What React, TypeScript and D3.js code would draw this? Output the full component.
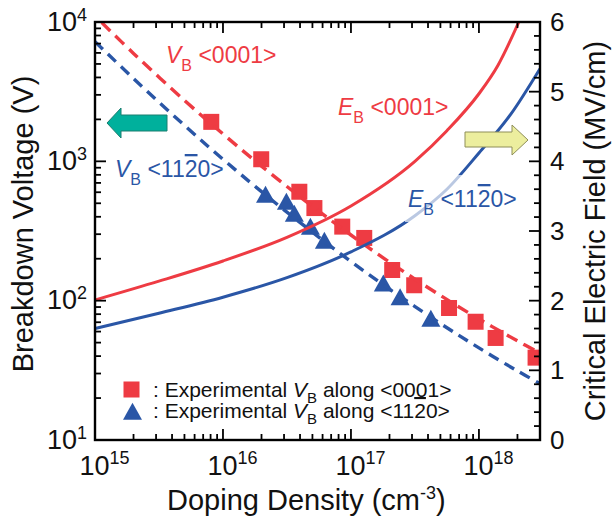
import React from 'react';
import * as d3 from 'd3';

const RED = '#EE3B43';
const BLUE = '#2A56A6';
const FONT = '"Liberation Sans", Arial, Helvetica, sans-serif';

// Experimental breakdown voltage along <0001> (doping cm^-3, volts)
const sqDoping = [8.1e15, 1.99e16, 3.95e16, 5.18e16, 8.55e16, 1.27e17, 2.1e17, 3.12e17, 5.84e17, 9.42e17, 1.35e18, 2.77e18];
const sqVoltage = [1920, 1035, 605, 462, 340, 282, 166, 129, 88.6, 70.6, 54, 39];

// Experimental breakdown voltage along <11-20>
const triDoping = [2.15e16, 3.13e16, 3.61e16, 4.82e16, 6.2e16, 1.79e17, 2.42e17, 4.21e17];
const triVoltage = [555, 494, 405, 327, 259, 128, 102, 71.5];

// Calculated breakdown voltage, <0001>
const vb0001Doping = [1.13e15, 2e15, 5e15, 1e16, 2e16, 5e16, 1e17, 2e17, 5e17, 1e18, 2e18, 3e18];
const vb0001Voltage = [9900, 5950, 2740, 1572, 924, 475, 296, 189, 109, 73.9, 51.4, 42];

// Calculated breakdown voltage, <11-20>
const vb1120Doping = [1e15, 2e15, 5e15, 1e16, 2e16, 5e16, 1e17, 2e17, 5e17, 1e18, 2e18, 3e18];
const vb1120Voltage = [7230, 3930, 1810, 1035, 606, 310, 191, 121, 68.6, 45.8, 31.3, 25.4];

// Critical electric field (MV/cm), <0001>
const eb0001Doping = [1e15, 3.16e15, 1e16, 3.16e16, 1e17, 3.16e17, 5.62e17, 1e18, 1.41e18, 2.05e18];
const eb0001Field = [2.01, 2.28, 2.57, 2.91, 3.36, 4.0, 4.44, 4.97, 5.38, 6.0];

// Critical electric field (MV/cm), <11-20>
const eb1120Doping = [1e15, 3.16e15, 1e16, 3.16e16, 1e17, 3.16e17, 5.62e17, 1e18, 1.78e18, 3e18];
const eb1120Field = [1.6, 1.82, 2.05, 2.33, 2.7, 3.22, 3.6, 4.12, 4.68, 5.33];

// Axis ticks
const xMajorTicks = [1e15, 1e16, 1e17, 1e18];
const xExponents = ['15', '16', '17', '18'];
const vMajorTicks = [10, 100, 1000, 10000];
const vExponents = ['1', '2', '3', '4'];
const eTicks = [0, 1, 2, 3, 4, 5, 6];

const zip = (a: number[], b: number[]): [number, number][] => a.map((v, i) => [v, b[i]]);

export default function App() {
  const W = 612;
  const H = 525;
  const L = 95, R = 540, T = 22, B = 440;

  const x = d3.scaleLog().domain([1e15, 3e18]).range([L, R]);
  const yV = d3.scaleLog().domain([10, 1e4]).range([B, T]);
  const yE = d3.scaleLinear().domain([0, 6]).range([B, T]);

  const lineV = d3
    .line<[number, number]>()
    .x((d) => x(d[0]))
    .y((d) => yV(d[1]))
    .curve(d3.curveCatmullRom.alpha(0.5));
  const lineE = d3
    .line<[number, number]>()
    .x((d) => x(d[0]))
    .y((d) => yE(d[1]))
    .curve(d3.curveMonotoneX);

  const xMinor = d3
    .range(15, 19)
    .flatMap((p) => d3.range(2, 10).map((k) => k * 10 ** p))
    .filter((v) => v <= 3e18);
  const vMinor = d3.range(1, 4).flatMap((p) => d3.range(2, 10).map((k) => k * 10 ** p));
  const eMinor = d3.range(0, 30).map((i) => i * 0.2).filter((v, i) => i % 5 !== 0);

  const sq = 16;
  const triW = 19;
  const triH = 17;
  const triPath = (cx: number, cy: number) =>
    `M${cx},${cy - (2 * triH) / 3}L${cx - triW / 2},${cy + triH / 3}L${cx + triW / 2},${cy + triH / 3}Z`;

  const major = 11;
  const minor = 6;
  const axisStroke = 2.4;

  return (
    <svg
      width={W}
      height={H}
      viewBox={`0 0 ${W} ${H}`}
      style={{ position: 'absolute', left: 0, top: 0, background: '#fff' }}
      fontFamily={FONT}
    >
      <defs>
        <clipPath id="plotArea">
          <rect x={L} y={T} width={R - L} height={B - T} />
        </clipPath>
      </defs>
      <rect x={0} y={0} width={W} height={H} fill="#fff" />

      {/* markers */}
      <g clipPath="url(#plotArea)">
        {sqDoping.map((n, i) => (
          <rect key={`s${i}`} x={x(n) - sq / 2} y={yV(sqVoltage[i]) - sq / 2} width={sq} height={sq} fill={RED} />
        ))}
        {triDoping.map((n, i) => (
          <path key={`t${i}`} d={triPath(x(n), yV(triVoltage[i]))} fill={BLUE} />
        ))}
      </g>

      {/* calculated curves */}
      <g clipPath="url(#plotArea)" fill="none">
        <path d={lineV(zip(vb0001Doping, vb0001Voltage)) || ''} stroke={RED} strokeWidth={3.4} strokeDasharray="12 7" />
        <path d={lineV(zip(vb1120Doping, vb1120Voltage)) || ''} stroke={BLUE} strokeWidth={3.4} strokeDasharray="11 7" />
        <path d={lineE(zip(eb0001Doping, eb0001Field)) || ''} stroke={RED} strokeWidth={3} />
        <path d={lineE(zip(eb1120Doping, eb1120Field)) || ''} stroke={BLUE} strokeWidth={3} />
      </g>

      {/* translucent backing for the E_B <11-20> label */}
      <rect x={405} y={175} width={122} height={47} fill="#fff" opacity={0.68} />

      {/* frame */}
      <rect x={L} y={T} width={R - L} height={B - T} fill="none" stroke="#000" strokeWidth={axisStroke} />

      {/* ticks on all four sides */}
      <g stroke="#000" strokeWidth={1.8}>
        {xMajorTicks.map((v) => (
          <g key={`xm${v}`}>
            <line x1={x(v)} x2={x(v)} y1={B} y2={B - major} />
            <line x1={x(v)} x2={x(v)} y1={T} y2={T + major} />
          </g>
        ))}
        {xMinor.map((v) => (
          <g key={`xn${v}`}>
            <line x1={x(v)} x2={x(v)} y1={B} y2={B - minor} />
            <line x1={x(v)} x2={x(v)} y1={T} y2={T + minor} />
          </g>
        ))}
        {vMajorTicks.map((v) => (
          <line key={`vm${v}`} x1={L} x2={L + major} y1={yV(v)} y2={yV(v)} />
        ))}
        {vMinor.map((v) => (
          <line key={`vn${v}`} x1={L} x2={L + minor} y1={yV(v)} y2={yV(v)} />
        ))}
        {eTicks.map((v) => (
          <line key={`em${v}`} x1={R} x2={R - major} y1={yE(v)} y2={yE(v)} />
        ))}
        {eMinor.map((v) => (
          <line key={`en${v}`} x1={R} x2={R - minor} y1={yE(v)} y2={yE(v)} />
        ))}
      </g>

      {/* tick labels */}
      <g fill="#111">
        {xMajorTicks.map((v, i) => (
          <text key={`xl${v}`} x={x(v) - 15.5} y={475} fontSize={27}>
            10<tspan dy={-11} fontSize={18}>{xExponents[i]}</tspan>
          </text>
        ))}
        {vMajorTicks.map((v, i) => (
          <text key={`vl${v}`} x={47} y={yV(v) + 8.5} fontSize={27}>
            10<tspan dy={-10} fontSize={18}>{vExponents[i]}</tspan>
          </text>
        ))}
        {eTicks.map((v) => (
          <text key={`el${v}`} x={550} y={yE(v) + 9} fontSize={26}>
            {v}
          </text>
        ))}
      </g>

      {/* axis titles */}
      <text x={167} y={510} fontSize={29} fill="#111">
        Doping Density (cm<tspan dy={-11} fontSize={18}>-3</tspan>
        <tspan dy={11}>)</tspan>
      </text>
      <text transform="translate(33,224) rotate(-90)" textAnchor="middle" fontSize={29} fill="#111">
        Breakdown Voltage (V)
      </text>
      <text transform="translate(605,231) rotate(-90)" textAnchor="middle" fontSize={29} fill="#111">
        Critical Electric Field (MV/cm)
      </text>

      {/* curve labels */}
      <text x={166} y={63} fontSize={23} fill={RED}>
        <tspan fontStyle="italic">V</tspan>
        <tspan dy={8} fontSize={16}>B</tspan>
        <tspan dy={-8}> &lt;0001&gt;</tspan>
      </text>
      <text x={115} y={177} fontSize={23} fill={BLUE}>
        <tspan fontStyle="italic">V</tspan>
        <tspan dy={8} fontSize={16}>B</tspan>
        <tspan dy={-8}> &lt;11</tspan>
        <tspan style={{ textDecoration: 'overline' }}>2</tspan>
        <tspan>0&gt;</tspan>
      </text>
      <text x={338} y={115} fontSize={23} fill={RED}>
        <tspan fontStyle="italic">E</tspan>
        <tspan dy={8} fontSize={16}>B</tspan>
        <tspan dy={-8}> &lt;0001&gt;</tspan>
      </text>
      <text x={408} y={207} fontSize={23} fill={BLUE}>
        <tspan fontStyle="italic">E</tspan>
        <tspan dy={8} fontSize={16}>B</tspan>
        <tspan dy={-8}> &lt;11</tspan>
        <tspan style={{ textDecoration: 'overline' }}>2</tspan>
        <tspan>0&gt;</tspan>
      </text>

      {/* axis arrows */}
      <path
        d="M107,123 L121,108 L121,115 L167,115 L167,131 L121,131 L121,138 Z"
        fill="#00B09C"
        stroke="#1B7E70"
        strokeWidth={1}
      />
      <path
        d="M528,140 L512,125 L512,132 L465,132 L465,147 L512,147 L512,155 Z"
        fill="#ECEE9E"
        stroke="#8E8E58"
        strokeWidth={1}
      />

      {/* legend */}
      <rect x={131.5 - sq / 2} y={389.5 - sq / 2} width={sq} height={sq} fill={RED} />
      <path d={triPath(132.5, 414)} fill={BLUE} />
      <text x={153} y={397} fontSize={21} fill="#111">
        : Experimental <tspan fontStyle="italic">V</tspan>
        <tspan dy={6} fontSize={15}>B</tspan>
        <tspan dy={-6}> along &lt;0001&gt;</tspan>
      </text>
      <text x={153} y={418} fontSize={21} fill="#111">
        : Experimental <tspan fontStyle="italic">V</tspan>
        <tspan dy={6} fontSize={15}>B</tspan>
        <tspan dy={-6}> along &lt;11</tspan>
        <tspan style={{ textDecoration: 'overline' }}>2</tspan>
        <tspan>0&gt;</tspan>
      </text>
    </svg>
  );
}
